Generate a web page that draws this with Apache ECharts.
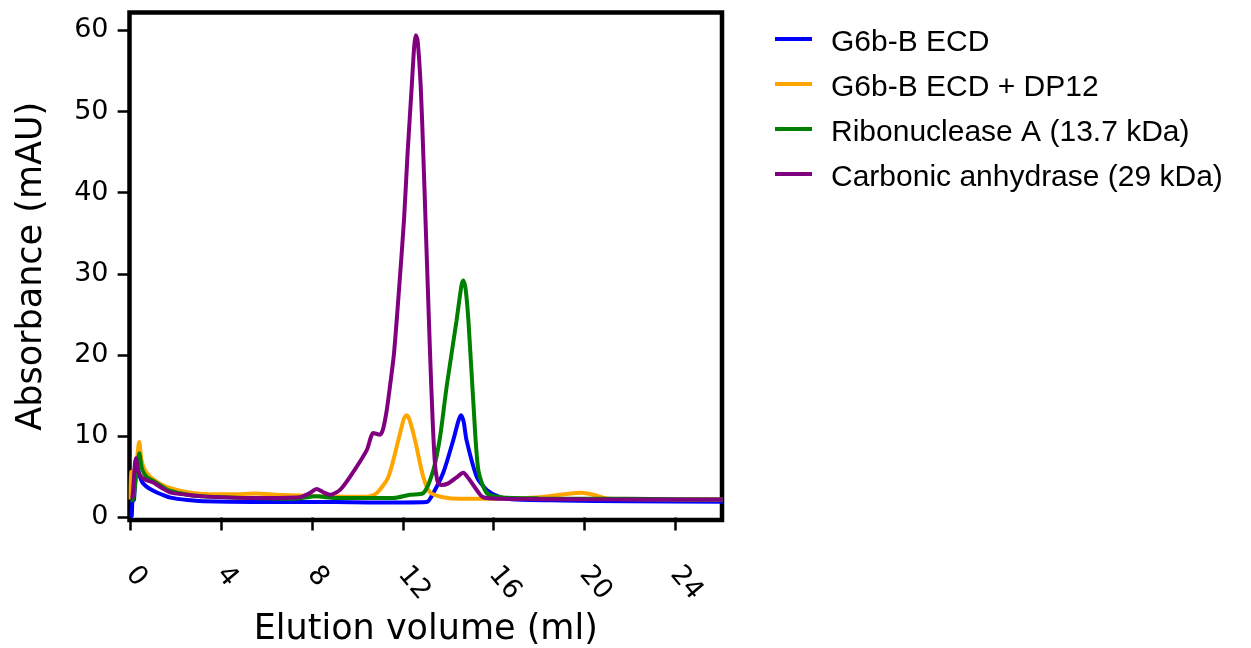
<!DOCTYPE html>
<html>
<head>
<meta charset="utf-8">
<script src="https://cdn.jsdelivr.net/npm/echarts@6/dist/echarts.min.js"></script>
<style>
  html, body { margin: 0; padding: 0; background: #fff; }
  #ec { width: 1251px; height: 648px; }
</style>
</head>
<body>
<div id="ec"></div>
<script>
var seriesNames = ['G6b-B ECD', 'G6b-B ECD + DP12', 'Ribonuclease A (13.7 kDa)', 'Carbonic anhydrase (29 kDa)']
var seriesColors = ['#0000ff', '#ffa500', '#008000', '#800080']
var xTicks = [0, 4, 8, 12, 16, 20, 24]
var yTicks = [0, 10, 20, 30, 40, 50, 60]

// G6b-B ECD
var g6bVol = [0, 0.05, 0.08, 0.15, 0.25, 0.33, 0.5, 0.7, 1.0, 1.4, 1.75, 2.5, 3.2, 5.4, 7.2, 9, 10.5, 12, 13.05, 13.34, 13.78, 14.22, 14.45, 14.56, 14.68, 14.81, 15.26, 15.7, 16.28, 17, 19, 22, 26.1]
var g6bAbs = [0, 0.2, 2.0, 2.2, 6.8, 5.8, 4.4, 3.8, 3.3, 2.8, 2.45, 2.15, 2.0, 1.9, 1.9, 1.9, 1.85, 1.85, 1.9, 3.0, 5.5, 9.5, 11.9, 12.6, 11.8, 9.5, 5.0, 3.4, 2.5, 2.2, 2.1, 2.0, 1.95]

// G6b-B ECD + DP12
var dp12Vol = [0, 0.03, 0.2, 0.38, 0.47, 0.6, 0.8, 1.0, 1.4, 1.75, 2.5, 3.2, 4.5, 5.5, 6.5, 7.5, 8.5, 10.4, 10.85, 11.36, 11.8, 12.05, 12.17, 12.3, 12.54, 12.9, 13.2, 13.78, 14.5, 16, 18.05, 19.2, 19.89, 20.4, 21.1, 23, 26.1]
var dp12Abs = [2.2, 5.6, 5.7, 9.3, 7.2, 6.0, 5.2, 4.7, 4.0, 3.6, 3.1, 2.9, 2.85, 2.95, 2.8, 2.7, 2.6, 2.55, 3.0, 5.0, 9.5, 12.2, 12.6, 12.0, 9.5, 5.0, 3.1, 2.5, 2.3, 2.3, 2.5, 2.9, 3.05, 2.8, 2.3, 2.25, 2.2]

// Ribonuclease A
var ribVol = [0, 0.1, 0.18, 0.38, 0.5, 0.7, 1.0, 1.4, 1.73, 2.5, 3.2, 5.4, 7.2, 8.2, 9, 11.58, 12.31, 12.9, 13.34, 13.64, 13.93, 14.37, 14.58, 14.66, 14.76, 14.89, 15.11, 15.33, 15.7, 16.3, 18, 22, 26.1]
var ribAbs = [2.1, 2.2, 3.5, 7.9, 6.0, 5.0, 4.5, 3.8, 3.3, 2.8, 2.6, 2.4, 2.3, 2.6, 2.4, 2.4, 2.8, 3.0, 5.8, 9.9, 16.1, 24.3, 28.5, 29.2, 28.3, 24.3, 14.1, 5.8, 3.0, 2.5, 2.35, 2.3, 2.2]

// Carbonic anhydrase
var carbVol = [0, 0.08, 0.23, 0.35, 0.5, 0.7, 1.0, 1.4, 1.73, 2.5, 3.2, 5.4, 7.46, 7.9, 8.2, 8.5, 8.79, 9.23, 9.67, 10.41, 10.7, 10.99, 11.12, 11.29, 11.43, 11.61, 11.84, 12.05, 12.21, 12.39, 12.5, 12.57, 12.65, 12.79, 12.9, 13.0, 13.1, 13.2, 13.31, 13.42, 13.55, 13.7, 14.0, 14.4, 14.66, 14.9, 15.2, 15.53, 16.3, 20, 26.1]
var carbAbs = [2.4, 2.5, 7.3, 5.6, 4.9, 4.6, 4.3, 3.6, 3.1, 2.8, 2.6, 2.4, 2.5, 3.0, 3.5, 3.1, 2.8, 3.4, 5.0, 8.3, 10.4, 10.2, 10.8, 13.2, 16.1, 20.2, 28.4, 36.6, 44.9, 53.0, 58, 59.4, 58.8, 53.0, 44.9, 36.6, 28.4, 20.2, 12.2, 6.5, 4.3, 4.0, 4.2, 5.0, 5.5, 4.8, 3.6, 2.5, 2.3, 2.25, 2.2]

function zip(xs, ys) {
  return xs.map(function (x, i) { return [x, ys[i]] })
}

var curves = [zip(g6bVol, g6bAbs), zip(dp12Vol, dp12Abs), zip(ribVol, ribAbs), zip(carbVol, carbAbs)]

var axisFont = 'DejaVu Sans'
var myEchart = echarts.init(document.getElementById('ec'))
myEchart.setOption({
  animation: false,
  color: seriesColors,
  grid: {
    left: 129.5, right: 529, top: 12.5, bottom: 128,
    outerBoundsMode: 'none',
    show: true, borderWidth: 4.5, borderColor: '#000'
  },
  legend: {
    orient: 'vertical',
    left: 775,
    top: 26,
    padding: 0,
    itemGap: 11,
    itemWidth: 37,
    itemHeight: 12,
    // bar sits at the top of the icon box so the text lands a little below it
    icon: 'path://M0,0H37V4H0Z M0,11.99H0.01V12H0Z',
    data: seriesNames,
    textStyle: {
      fontFamily: 'Liberation Sans',
      fontSize: 30,
      lineHeight: 34,
      color: '#000',
      padding: [0, 0, 0, 14]
    }
  },
  xAxis: {
    type: 'value',
    min: -0.05,
    max: 26.07,
    name: 'Elution volume (ml)',
    nameLocation: 'middle',
    nameGap: 87,
    nameTextStyle: { fontFamily: axisFont, fontSize: 35, color: '#000' },
    axisLine: { show: false },
    splitLine: { show: false },
    axisTick: {
      show: true, length: 13, customValues: xTicks,
      lineStyle: { color: '#000', width: 2.5 }
    },
    axisLabel: {
      customValues: xTicks, rotate: -50, margin: 50,
      fontFamily: axisFont, fontSize: 27, color: '#000'
    }
  },
  yAxis: {
    type: 'value',
    min: -0.31,
    max: 62.2,
    name: 'Absorbance (mAU)',
    nameLocation: 'middle',
    nameRotate: 90,
    nameGap: 80,
    nameTextStyle: { fontFamily: axisFont, fontSize: 35, color: '#000' },
    axisLine: { show: false },
    splitLine: { show: false },
    axisTick: {
      show: true, length: 13, customValues: yTicks,
      lineStyle: { color: '#000', width: 2.5 }
    },
    axisLabel: {
      customValues: yTicks, margin: 21,
      fontFamily: axisFont, fontSize: 27, color: '#000'
    }
  },
  series: seriesNames.map(function (name, i) {
    return {
      name: name,
      type: 'line',
      data: curves[i],
      showSymbol: false,
      smooth: 0.25,
      lineStyle: { width: 4, color: seriesColors[i] },
      itemStyle: { color: seriesColors[i] },
      z: 2 + i
    }
  })
})
</script>
</body>
</html>
